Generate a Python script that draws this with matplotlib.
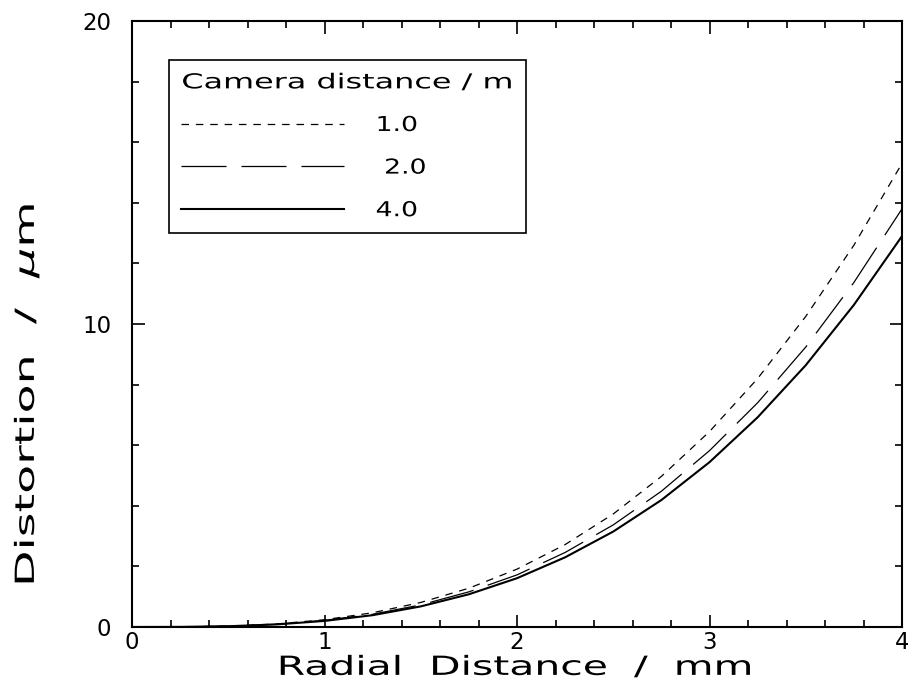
import matplotlib
matplotlib.use("Agg")
import matplotlib.pyplot as plt
from matplotlib import patheffects
from matplotlib.ticker import MultipleLocator
from matplotlib.transforms import Affine2D

# radial distance (mm) and distortion (um)
radial = [0.0, 0.25, 0.5, 0.75, 1.0, 1.25, 1.5, 1.75, 2.0, 2.25, 2.5, 2.75, 3.0, 3.25, 3.5, 3.75, 4.0]
dist_1m = [0.0, 0.004, 0.03, 0.10, 0.24, 0.47, 0.81, 1.28, 1.91, 2.72, 3.73, 4.97, 6.45, 8.20, 10.25, 12.60, 15.3]
dist_2m = [0.0, 0.003, 0.027, 0.091, 0.22, 0.42, 0.73, 1.16, 1.72, 2.46, 3.37, 4.48, 5.82, 7.40, 9.24, 11.37, 13.8]
dist_4m = [0.0, 0.003, 0.025, 0.085, 0.20, 0.39, 0.68, 1.08, 1.61, 2.30, 3.15, 4.19, 5.44, 6.92, 8.64, 10.63, 12.9]
labels = ["1.0", " 2.0", "4.0"]


class Stretch(patheffects.AbstractPathEffect):
    # widen glyphs along the text direction, like the old plotter font
    def __init__(self, sx):
        super().__init__()
        self.sx = sx

    def draw_path(self, renderer, gc, tpath, affine, rgbFace=None):
        renderer.draw_path(gc, tpath, Affine2D().scale(self.sx, 1) + affine, rgbFace)


plt.rcParams["font.family"] = ["DejaVu Sans"]
plt.rcParams["mathtext.fontset"] = "dejavusans"

fig = plt.figure(figsize=(9.08, 7.0), dpi=100)
ax = fig.add_axes([132 / 908, 73 / 700, 770 / 908, 606 / 700])

ax.plot(radial, dist_1m, color="black", lw=0.9, linestyle=(0, (6, 5.5)), label=labels[0])
ax.plot(radial, dist_2m, color="black", lw=0.9, linestyle=(0, (36, 12)), label=labels[1])
ax.plot(radial, dist_4m, color="black", lw=1.5, linestyle="-", label=labels[2])

ax.set_xlim(0, 4)
ax.set_ylim(0, 20)
ax.xaxis.set_major_locator(MultipleLocator(1))
ax.xaxis.set_minor_locator(MultipleLocator(0.2))
ax.yaxis.set_major_locator(MultipleLocator(10))
ax.yaxis.set_minor_locator(MultipleLocator(2))
ax.tick_params(which="both", direction="in", top=True, right=True, width=1.2, labelsize=16.5)
ax.tick_params(axis="x", pad=3)
ax.tick_params(axis="y", pad=15)
ax.tick_params(which="major", length=9)
ax.tick_params(which="minor", length=5)
for sp in ax.spines.values():
    sp.set_linewidth(1.5)

ax.set_xlabel("Radial  Distance  /  mm", fontsize=19)
ax.xaxis.label.set_ha("left")
ax.xaxis.set_label_coords(0.188, -0.046)
ax.xaxis.label.set_path_effects([Stretch(1.55)])

ax.set_ylabel(r"Distortion  /  $\mu$m", fontsize=19)
ax.yaxis.label.set_ha("left")
ax.yaxis.set_label_coords(-0.117, 0.066)
ax.yaxis.label.set_path_effects([Stretch(1.8)])

leg = ax.legend(title="Camera distance / m", loc="upper left",
                bbox_to_anchor=(0.048, 0.5, 0.4636, 0.4356), mode="expand",
                borderaxespad=0, fontsize=14.8, title_fontsize=14.8, handlelength=7.9,
                handletextpad=1.55, labelspacing=1.1, borderpad=0.6, fancybox=False,
                framealpha=1, edgecolor="black", alignment="left")
leg.get_frame().set_linewidth(1.2)
leg.get_title().set_path_effects([Stretch(1.55)])
for t in leg.get_texts():
    t.set_path_effects([Stretch(1.3)])

fig.savefig("out.png", dpi=100, facecolor="white")
